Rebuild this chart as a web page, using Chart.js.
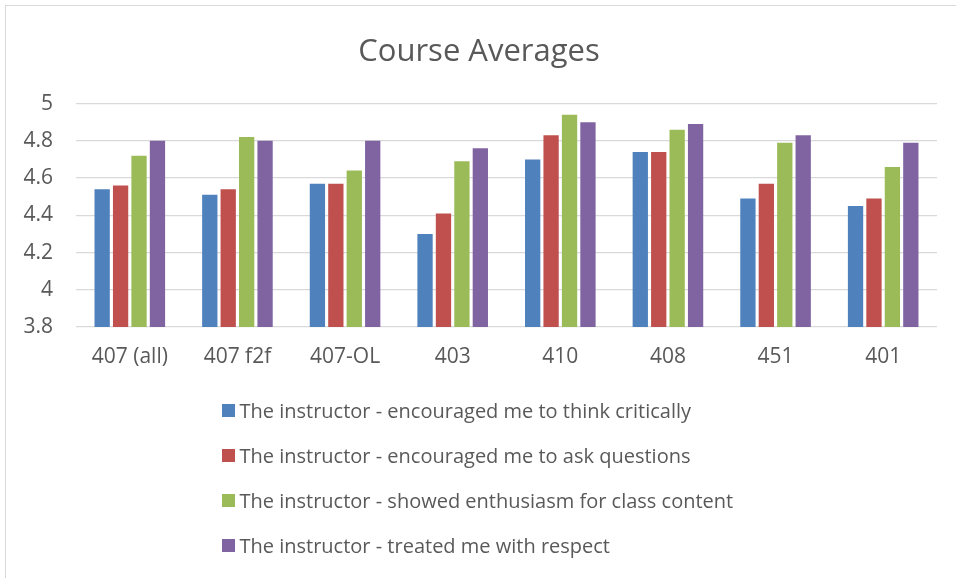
<!DOCTYPE html>
<html>
<head>
<meta charset="utf-8">
<script src="https://cdn.jsdelivr.net/npm/chart.js@4.4.1/dist/chart.umd.min.js"></script>
<style>
    body { margin: 0; background: #fff; }
    #wrap { position: relative; width: 956px; height: 578px; overflow: hidden; }
    #frame { position: absolute; left: 5px; top: 5px; right: -2px; bottom: -2px; border-left: 1.5px solid #d9d9d9; border-top: 1.5px solid #d9d9d9; }
    #legend { position: absolute; left: 222px; top: 388px; font-family: 'Open Sans', sans-serif; font-size: 20px; color: #595959; }
    #legend .item { height: 45px; display: flex; align-items: center; }
    #legend .box { width: 12.5px; height: 12.5px; margin-right: 5px; flex: none; }
</style>
</head>
<body>
<div id="wrap">
    <div id="frame"></div>
    <canvas id="courseChart" width="956" height="578"></canvas>
    <div id="legend"></div>
</div>
<script>
// Chart data
const courses = ['407 (all)', '407 f2f', '407-OL', '403', '410', '408', '451', '401'];
const seriesNames = [
    'The instructor - encouraged me to think critically',
    'The instructor - encouraged me to ask questions',
    'The instructor - showed enthusiasm for class content',
    'The instructor - treated me with respect'
];
const thinkCritically = [4.54, 4.51, 4.57, 4.30, 4.70, 4.74, 4.49, 4.45];
const askQuestions    = [4.56, 4.54, 4.57, 4.41, 4.83, 4.74, 4.57, 4.49];
const enthusiasm      = [4.72, 4.82, 4.64, 4.69, 4.94, 4.86, 4.79, 4.66];
const respect         = [4.80, 4.80, 4.80, 4.76, 4.90, 4.89, 4.83, 4.79];
const seriesColors = ['#4f81bd', '#c0504d', '#9bbb59', '#8064a2'];

const textColor = '#595959';
const gridColor = '#d9d9d9';

document.addEventListener('DOMContentLoaded', function () {
    const ctx = document.getElementById('courseChart').getContext('2d');
    const allValues = [thinkCritically, askQuestions, enthusiasm, respect];

    const chart = new Chart(ctx, {
        type: 'bar',
        data: {
            labels: courses,
            datasets: allValues.map((vals, i) => ({
                label: seriesNames[i],
                data: vals,
                backgroundColor: seriesColors[i],
                borderWidth: 0,
                barPercentage: 0.83,
                categoryPercentage: 0.685
            }))
        },
        options: {
            responsive: false,
            animation: false,
            // left padding nudges the title centre right; y axis width makes up the rest
            layout: { padding: { left: 21, right: 19, top: 0, bottom: 211 } },
            plugins: {
                legend: { display: false },
                tooltip: { enabled: false },
                title: {
                    display: true,
                    text: 'Course Averages',
                    color: textColor,
                    font: { family: 'Open Sans', size: 31, weight: 'normal' },
                    padding: { top: 33.4, bottom: 33 }
                }
            },
            scales: {
                x: {
                    afterFit: function (scale) { scale.height = 40; },
                    grid: { display: false, drawTicks: false },
                    border: { display: false },
                    ticks: {
                        color: textColor,
                        padding: 17.7,
                        font: { family: 'Open Sans', size: 21 }
                    }
                },
                y: {
                    min: 3.8,
                    max: 5,
                    afterFit: function (scale) { scale.width = 55; },
                    grid: { color: gridColor, lineWidth: 1.3, drawTicks: false },
                    border: { display: false },
                    ticks: {
                        stepSize: 0.2,
                        color: textColor,
                        padding: 23,
                        font: { family: 'Open Sans', size: 21 },
                        callback: v => Math.round(v * 10) / 10
                    }
                }
            }
        }
    });

    // Vertical legend, left-aligned like the original
    const legend = document.getElementById('legend');
    chart.data.datasets.forEach(ds => {
        const row = document.createElement('div');
        row.className = 'item';
        const box = document.createElement('span');
        box.className = 'box';
        box.style.background = ds.backgroundColor;
        const label = document.createElement('span');
        label.textContent = ds.label;
        row.appendChild(box);
        row.appendChild(label);
        legend.appendChild(row);
    });
});
</script>
</body>
</html>
